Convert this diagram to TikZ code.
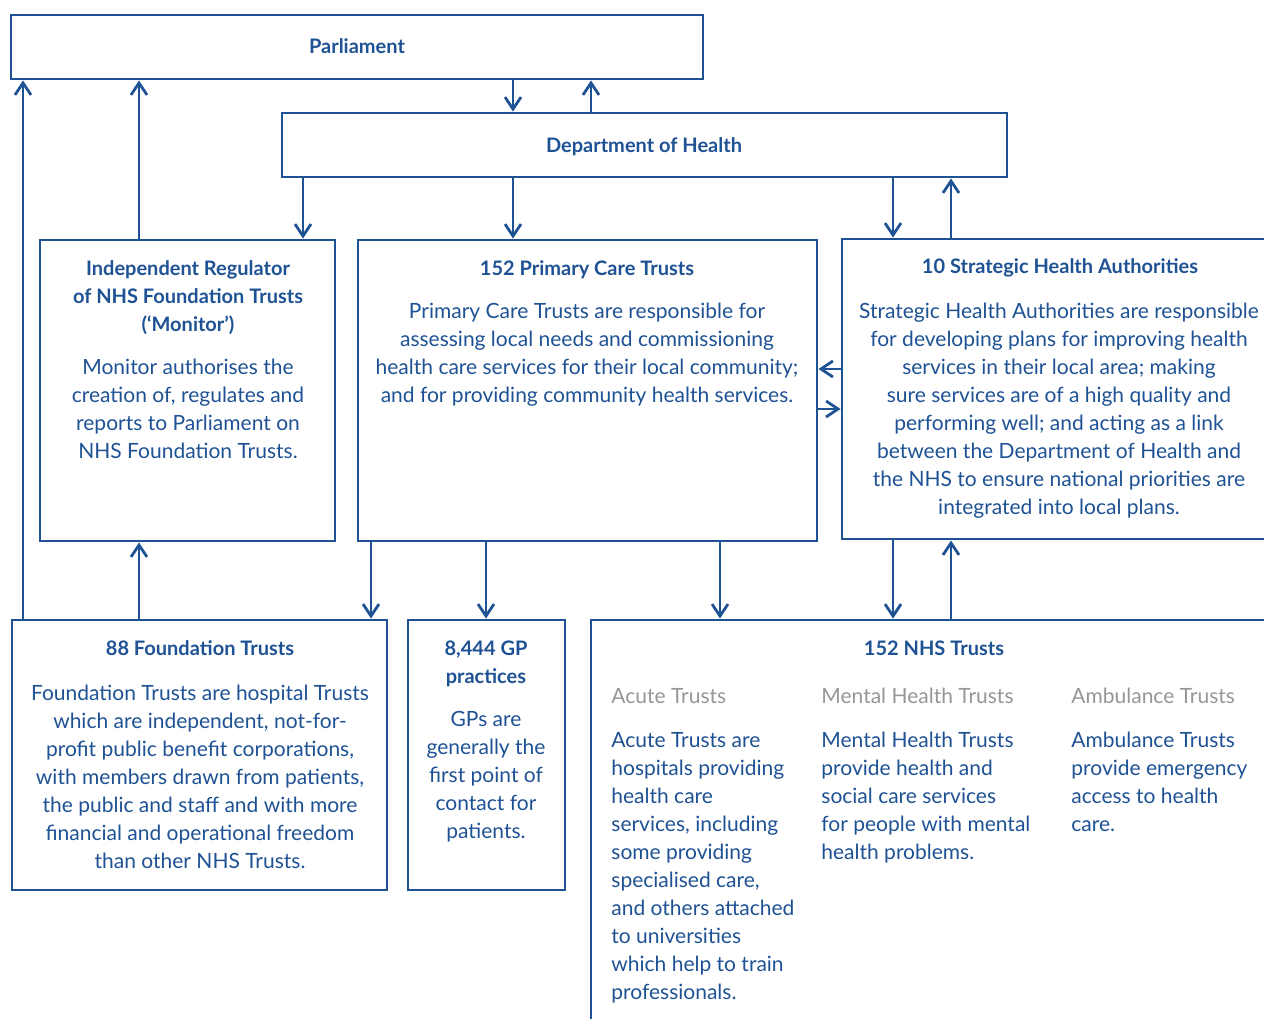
\documentclass[tikz,border=0pt]{standalone}
\usepackage{fontspec}
\setmainfont{Lato}
\usetikzlibrary{arrows.meta,fit}

\definecolor{nhsblue}{RGB}{30,82,148}
\definecolor{nhsgrey}{RGB}{150,150,150}

\tikzset{
	box/.style={draw=nhsblue, line width=1.4pt, inner sep=0pt},
	head/.style={font=\bfseries\fontsize{10}{14}\selectfont, text=nhsblue, align=center, anchor=base, inner sep=0pt},
	body/.style={font=\fontsize{10.5}{14}\selectfont, text=nhsblue, align=center, anchor=base, inner sep=0pt},
	col/.style={body, align=left, anchor=base west},
	arr/.style={draw=nhsblue, line width=1.4pt, -{Straight Barb[length=6pt,width=8pt]}},
}

\begin{document}
\begin{tikzpicture}[x=0.5pt,y=-0.5pt]
	\useasboundingbox (0,0) rectangle (1264,1018);

	% boxes
	\node (P) [box, fit={(11,15) (703,79)}] {};
	\node (D) [box, fit={(282,113) (1007,177)}] {};
	\node (M) [box, fit={(40,240) (335,541)}] {};
	\node (C) [box, fit={(358,240) (817,541)}] {};
	\node (S) [box, fit={(842,239) (1290,539)}] {};
	\node (F) [box, fit={(12,620) (387,890)}] {};
	\node (G) [box, fit={(408,620) (565,890)}] {};
	\node (N) [box, fit={(591,620) (1290,1040)}] {};

	% texts (placed at the baseline of their last line)
	\node (Pt) [head] at (357,53) {Parliament};
	\node (Dt) [head] at (644,152) {Department of Health};

	\node (Mt) [head] at (188,331) {Independent Regulator\\of NHS Foundation Trusts\\(‘Monitor’)};
	\node (Mb) [body] at (188,458) {Monitor authorises the\\creation of, regulates and\\reports to Parliament on\\NHS Foundation Trusts.};

	\node (Ct) [head] at (587,275) {152 Primary Care Trusts};
	\node (Cb) [body] at (587,402) {Primary Care Trusts are responsible for\\assessing local needs and commissioning\\health care services for their local community;\\and for providing community health services.};

	\node (St) [head] at (1060,273) {10 Strategic Health Authorities};
	\node (Sb) [body] at (1059,514) {Strategic Health Authorities are responsible\\for developing plans for improving health\\services in their local area; making\\sure services are of a high quality and\\performing well; and acting as a link\\between the Department of Health and\\the NHS to ensure national priorities are\\integrated into local plans.};

	\node (Ft) [head] at (200,655) {88 Foundation Trusts};
	\node (Fb) [body] at (200,868) {Foundation Trusts are hospital Trusts\\which are independent, not-for-\\profit public benefit corporations,\\with members drawn from patients,\\the public and staff and with more\\financial and operational freedom\\than other NHS Trusts.};

	\node (Gt) [head] at (486,683) {8,444 GP\\practices};
	\node (Gb) [body] at (486,838) {GPs are\\generally the\\first point of\\contact for\\patients.};

	\node (Nt) [head] at (934,655) {152 NHS Trusts};
	\node (N1) [col, text=nhsgrey] at (611,703) {Acute Trusts};
	\node (N2) [col, text=nhsgrey] at (821,703) {Mental Health Trusts};
	\node (N3) [col, text=nhsgrey] at (1071,703) {Ambulance Trusts};
	\node (a1) [col] at (611,999) {Acute Trusts are\\hospitals providing\\health care\\services, including\\some providing\\specialised care,\\and others attached\\to universities\\which help to train\\professionals.};
	\node (a2) [col] at (821,859) {Mental Health Trusts\\provide health and\\social care services\\for people with mental\\health problems.};
	\node (a3) [col] at (1071,831) {Ambulance Trusts\\provide emergency\\access to health\\care.};

	% columns and rows for the connectors
	\coordinate (xa) at (23,0);
	\coordinate (xb) at (139,0);
	\coordinate (xc) at (303,0);
	\coordinate (xd) at (371,0);
	\coordinate (xe) at (486,0);
	\coordinate (xf) at (513,0);
	\coordinate (xg) at (591,0);
	\coordinate (xh) at (720,0);
	\coordinate (xi) at (893,0);
	\coordinate (xj) at (951,0);
	\coordinate (yr) at (0,369);
	\coordinate (ys) at (0,409);

	\draw [arr] (F.north -| xa) to (P.south -| xa);
	\draw [arr] (M.north -| xb) to (P.south -| xb);
	\draw [arr] (P.south -| xf) to (D.north -| xf);
	\draw [arr] (D.north -| xg) to (P.south -| xg);
	\draw [arr] (D.south -| xc) to (M.north -| xc);
	\draw [arr] (D.south -| xf) to (C.north -| xf);
	\draw [arr] (D.south -| xi) to (S.north -| xi);
	\draw [arr] (S.north -| xj) to (D.south -| xj);
	\draw [arr] (S.west |- yr) to (C.east |- yr);
	\draw [arr] (C.east |- ys) to (S.west |- ys);
	\draw [arr] (F.north -| xb) to (M.south -| xb);
	\draw [arr] (C.south -| xd) to (F.north -| xd);
	\draw [arr] (C.south -| xe) to (G.north -| xe);
	\draw [arr] (C.south -| xh) to (N.north -| xh);
	\draw [arr] (S.south -| xi) to (N.north -| xi);
	\draw [arr] (N.north -| xj) to (S.south -| xj);
\end{tikzpicture}
\end{document}
